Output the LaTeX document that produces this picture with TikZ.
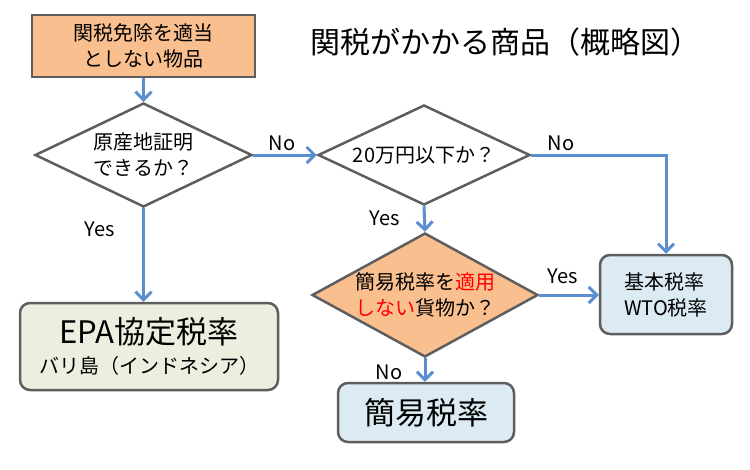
\documentclass[tikz,border=0pt]{standalone}
\usepackage{fontspec}
\setmainfont{Noto Sans CJK JP}
\usetikzlibrary{shapes.geometric, arrows.meta, positioning}
\definecolor{boxgray}{HTML}{5E5E5E}
\definecolor{flowblue}{HTML}{5A8ED0}
\definecolor{peach}{HTML}{F9BF8F}
\definecolor{paleblue}{HTML}{DCEBF3}
\definecolor{paleolive}{HTML}{ECEEDF}

\begin{document}
\begin{tikzpicture}[x=1pt, y=-1pt,
    txt/.style={font=\fontsize{20}{26}\selectfont},
    decision/.style={diamond, draw=boxgray, line width=2.5pt, inner sep=0pt, align=center, txt},
    result/.style={rectangle, rounded corners=10pt, draw=boxgray, line width=2.5pt, fill=paleblue, align=center},
    flow/.style={draw=flowblue, line width=3pt, -{Straight Barb[length=8pt, width=16pt, line width=3pt]}},
    answer/.style={font=\fontsize{20}{22}\selectfont}]
                \useasboundingbox (0,0) rectangle (750,469);

                % title
                \node (title) at (505,42) {\fontsize{30}{34}\selectfont 関税がかかる商品（概略図）};

                % draw the boxes
                \node[rectangle, draw=boxgray, line width=2.5pt, fill=peach, align=center, txt,
                      minimum width=223pt, minimum height=62pt] (goods) at (143.5,46) {関税免除を適当\\としない物品};
                \node[decision, fill=white, minimum width=217pt, minimum height=104pt, shape aspect=2.09]
                      (origin) at (143.5,155) {原産地証明\\できるか？};
                \node[decision, fill=white, minimum width=212pt, minimum height=100pt, shape aspect=2.12]
                      (value) at (424,155) {20万円以下か？};
                \node[decision, fill=peach, minimum width=226pt, minimum height=124pt, shape aspect=1.82]
                      (simple) at (425,295) {簡易税率を\textcolor{red}{適用}\\\textcolor{red}{しない}貨物か？};
                \node[result, fill=paleolive, minimum width=258pt, minimum height=87pt] (epa) at (149,346.5)
                      {{\fontsize{31}{36}\selectfont EPA協定税率}\\[10pt]{\fontsize{20}{24}\selectfont バリ島（インドネシア）}};
                \node[result, minimum width=132pt, minimum height=79pt, align=left, txt] (wto) at (666,294.5)
                      {基本税率\\WTO税率};
                \node[result, minimum width=176pt, minimum height=59pt] (kanni) at (426,412.5)
                      {\fontsize{31}{34}\selectfont 簡易税率};

                % draw the connectors
                \draw[flow] (goods.south) -- (origin.north);
                \draw[flow] (origin.east) -- (value.west);
                \draw[flow] (origin.south) -- (origin.south |- epa.north);
                \draw[flow] (value.east) -| (wto.north);
                \draw[flow] (value.south) -- (simple.north);
                \draw[flow] (simple.east) -- (wto.west |- simple.east);
                \draw[flow] (simple.south) -- (simple.south |- kanni.north);

                % answers
                \node[answer] (noone) at (282,143) {No};
                \node[answer] (notwo) at (561,143) {No};
                \node[answer] (yesone) at (100,229) {Yes};
                \node[answer] (yestwo) at (385,218) {Yes};
                \node[answer] (yesthree) at (563,276) {Yes};
                \node[answer] (nothree) at (389,372) {No};
\end{tikzpicture}
\end{document}
